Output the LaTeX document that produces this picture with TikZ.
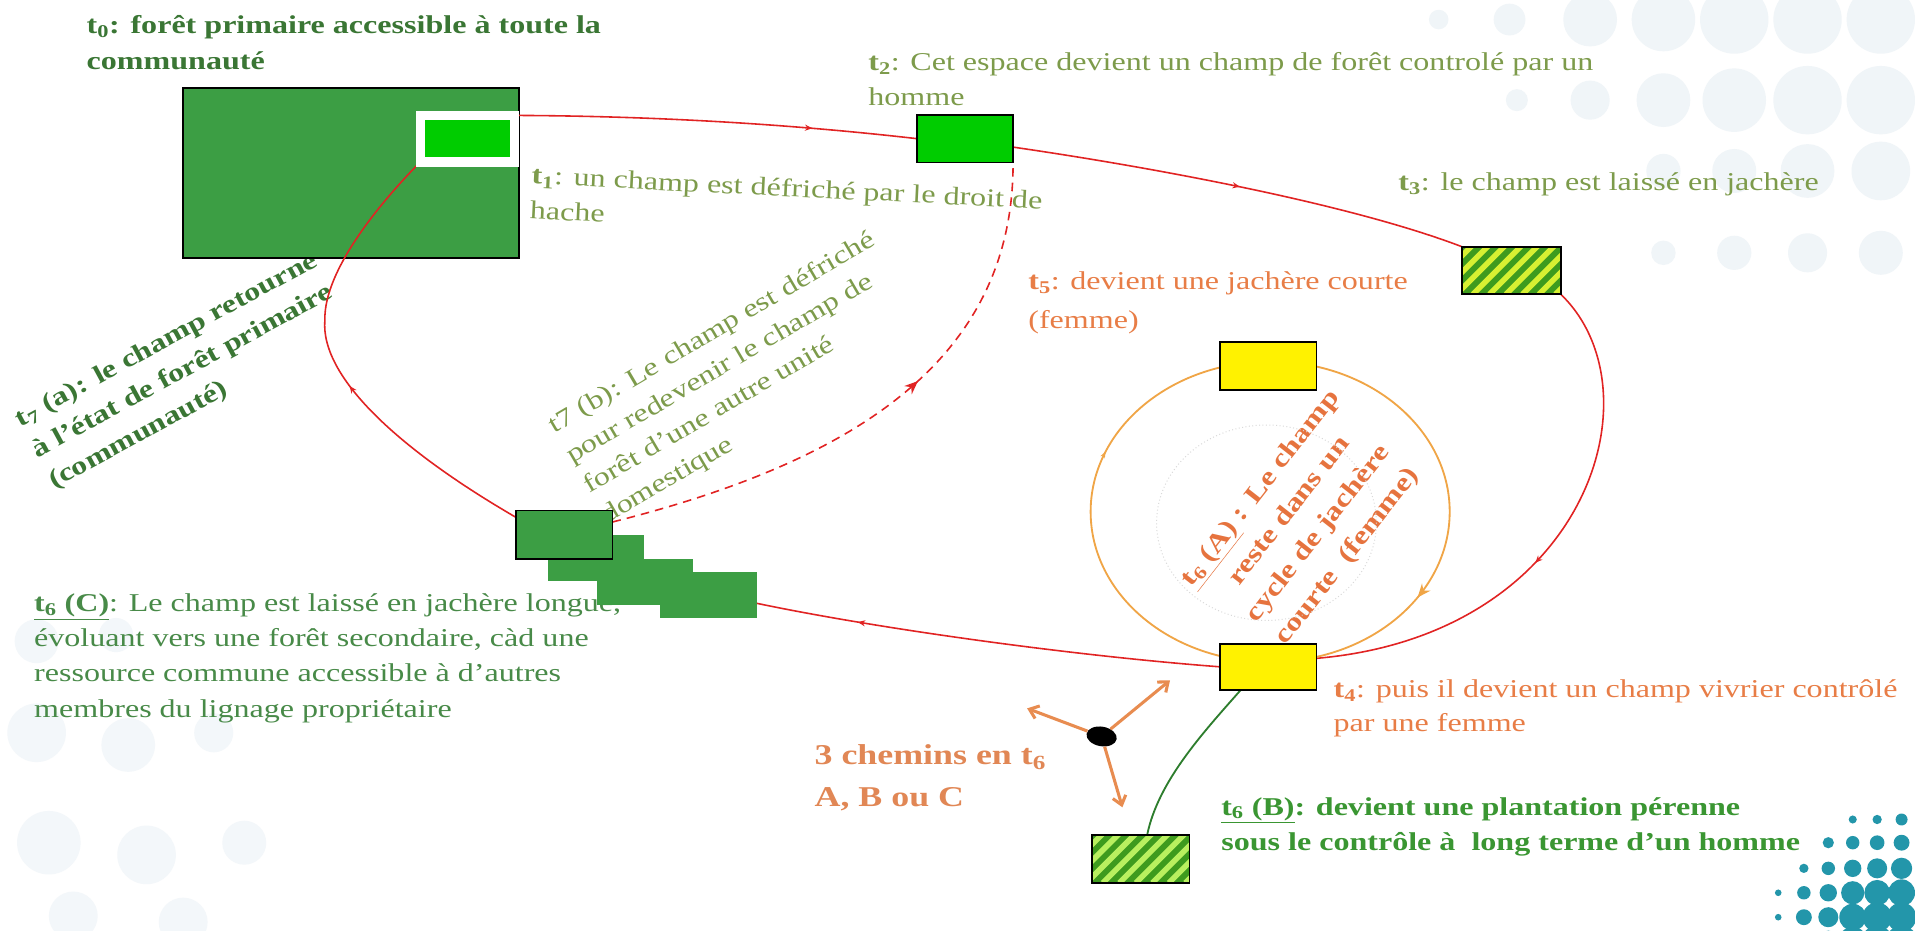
\documentclass[tikz,border=0pt]{standalone}
\usepackage{fontspec}
\setmainfont{Liberation Serif}[FakeStretch=1.25]
\usetikzlibrary{shapes.geometric,arrows.meta,decorations.markings,calc}
\pgfdeclarelayer{under}
\pgfdeclarelayer{lines}
\pgfsetlayers{under,lines,main}
\definecolor{dkgreen}{RGB}{58,118,52}
\definecolor{olivec}{RGB}{125,155,75}
\definecolor{midgreen}{RGB}{72,138,72}
\definecolor{bgreen}{RGB}{58,150,50}
\definecolor{ortext}{RGB}{232,125,70}
\definecolor{orbold}{RGB}{230,115,62}
\definecolor{orchem}{RGB}{225,135,85}
\definecolor{orc}{RGB}{240,165,70}
\definecolor{orarrow}{RGB}{232,140,80}
\definecolor{redc}{RGB}{225,35,35}
\definecolor{forestc}{RGB}{60,158,68}
\definecolor{brightc}{RGB}{0,204,0}
\definecolor{hatchg}{RGB}{62,155,30}
\definecolor{hatchy}{RGB}{215,240,50}
\definecolor{hatchl}{RGB}{185,240,95}
\definecolor{tealc}{RGB}{35,150,170}
\definecolor{faintc}{RGB}{240,245,248}
\definecolor{faintl}{RGB}{243,247,250}
\definecolor{glinec}{RGB}{45,125,45}
\newcommand{\hatchbox}[2]{%
  \begin{scope}
    \clip (#1.south west) rectangle (#1.north east);
    \foreach \k in {0,...,10} \draw[#2,line width=4.5pt] ($(#1.south west)+(\k*13.5-45,0)$) -- ++(55,-55);
  \end{scope}
  \draw[black,line width=1.5pt] (#1.south west) rectangle (#1.north east);}
\begin{document}
\begin{tikzpicture}[x=1pt,y=-1pt,
  box/.style={draw=black,line width=1.5pt,minimum width=79pt,minimum height=39pt,inner sep=0pt,outer sep=0pt},
  copyb/.style={fill=forestc,minimum width=79pt,minimum height=38pt,inner sep=0pt,outer sep=0pt},
  txt/.style={inner sep=0pt,outer sep=0pt,align=left,anchor=west,font=\fontsize{21}{28.5}\selectfont},
  btxt/.style={inner sep=0pt,outer sep=0pt,align=left,anchor=west,font=\fontsize{21}{28.5}\selectfont\bfseries},
  redl/.style={color=redc,line width=1.3pt},
  midarr/.style={postaction={decorate,decoration={markings,mark=at position #1 with {\arrow{Stealth[length=6pt,width=5pt]}}}}},
  orarr/.style={color=orarrow,line width=2.5pt,-{Straight Barb[length=7pt,width=11pt]}},
  ]
\useasboundingbox (0,0) rectangle (1568,762);
\begin{pgfonlayer}{under}
  \fill[white] (0,0) rectangle (1568,762);
  % faint background circles
  \foreach \x/\y/\r in {1178/16/8,1236/16/13,1302/16/22,1362/16/26,1420/16/28,1480/16/28,1540/16/28,
    1242/82/9,1302/82/16,1362/82/22,1420/82/26,1480/82/28,1540/82/28,
    1362/140/14,1420/140/18,1480/140/22,1540/140/24,
    1362/207/10,1420/207/14,1480/207/16,1540/207/18}
    \fill[faintc] (\x,\y) circle[radius=\r];
  \foreach \x/\y/\r in {30/525/18,95/520/14,30/600/24,105/610/22,175/600/16,40/690/26,120/700/24,200/690/18,60/750/20,150/755/20}
    \fill[faintl] (\x,\y) circle[radius=\r];
  % teal dots
  \begin{scope}
    \clip (0,0) rectangle (1568,762);
    \foreach \x/\y/\r in {1517/671/3.3,1537/671/3.8,1557/671/4.9,
      1497/690/4.6,1517/690/5.5,1537/690/6,1557/690/6.5,
      1477/711/3.8,1497/711/5.5,1517/711/7.1,1537/711/8.2,1557/711/8.7,
      1456/731/2.7,1477/731/5.5,1497/731/7.1,1517/731/9.5,1537/731/10.5,1557/731/11,
      1456/751/2.7,1477/751/6.5,1497/751/8.2,1517/751/11,1537/751/12,1557/751/12,
      1477/771/7,1497/771/9,1517/771/12,1537/771/13,1557/771/13}
      \fill[tealc] (\x,\y) circle[radius=\r];
  \end{scope}
  % texts
  \node[btxt,text=dkgreen,font=\fontsize{21}{30}\selectfont\bfseries] (t0txt) at (71,35)
    {t\textsubscript{0}: forêt primaire accessible à toute la\\communauté};
  \node[txt,text=olivec,rotate=-2.8] (t1txt) at (434.7,157.5)
    {\textbf{t\textsubscript{1}}: un champ est défriché par le droit de\\hache};
  \node[txt,text=olivec,font=\fontsize{21}{29}\selectfont] (t2txt) at (711,65)
    {\textbf{t\textsubscript{2}}: Cet espace devient un champ de forêt controlé par un\\homme};
  \node[txt,text=olivec] (t3txt) at (1145,151)
    {\textbf{t\textsubscript{3}}: le champ est laissé en jachère};
  \node[txt,text=ortext,font=\fontsize{21}{28}\selectfont] (t4txt) at (1092,580)
    {\textbf{t\textsubscript{4}}: puis il devient un champ vivrier contrôlé\\par une femme};
  \node[txt,text=ortext,font=\fontsize{21}{32}\selectfont] (t5txt) at (842,248)
    {\textbf{t\textsubscript{5}}: devient une jachère courte\\(femme)};
  \node[btxt,text=bgreen,font=\fontsize{21}{29}\selectfont\bfseries] (t6Btxt) at (1000,677)
    {\underline{t\textsubscript{6} (B)}: devient une plantation pérenne\\sous le contrôle à\ \ long terme d’un homme};
  \node[txt,text=midgreen,font=\fontsize{21}{28.7}\selectfont] (t6Ctxt) at (28,539)
    {\underline{\textbf{t\textsubscript{6} (C)}}: Le champ est laissé en jachère longue,\\évoluant vers une forêt secondaire, càd une\\ressource commune accessible à d’autres\\membres du lignage propriétaire};
  \node[btxt,text=orchem,font=\fontsize{23.5}{34}\selectfont\bfseries] (chemtxt) at (667,637)
    {3 chemins en t\textsubscript{6}\\A, B ou C};
  \node[btxt,text=dkgreen,rotate=28.5,font=\fontsize{21}{28.7}\selectfont\bfseries] (t7atxt) at (28.2,370.7)
    {t\textsubscript{7} (a): le champ retourne\\à l’état de forêt primaire\\(communauté)};
  \node[txt,text=olivec,rotate=30.4] (t7btxt) at (473,387.4)
    {t7 (b): Le champ est défriché\\pour redevenir le champ de\\forêt d’une autre unité\\domestique};
  \node[inner sep=0pt,align=center,rotate=52,text=orbold,font=\fontsize{21}{30}\selectfont\bfseries] (t6Atxt) at (1068,428)
    {\underline{t\textsubscript{6} (A)} : Le champ\\reste dans un\\cycle de jachère\\courte\ \ (femme)};
  % primary forest
  \node[draw=black,line width=1.5pt,fill=forestc,minimum width=275pt,minimum height=139pt,inner sep=0pt,outer sep=0pt] (forest) at (287.5,141.5) {};
\end{pgfonlayer}

% boxes
\node[fill=brightc,draw=white,line width=8pt,minimum width=77pt,minimum height=38pt,inner sep=0pt,outer sep=0pt] (t1box) at (382.75,113.5) {};
\node[box,fill=brightc] (t2box) at (790,113.5) {};
\node[box,fill=hatchg,draw=none,minimum width=81pt] (t3box) at (1237.5,221.5) {};
\hatchbox{t3box}{hatchy}
\node[box,fill=yellow] (t5box) at (1038.5,299.5) {};
\node[box,fill=yellow,minimum height=38pt] (t4box) at (1038.5,546) {};
\node[box,fill=hatchg,draw=none,minimum width=80pt] (t6Bbox) at (934,703.5) {};
\hatchbox{t6Bbox}{hatchl}
\node[copyb] (c3) at (580,487) {};
\node[copyb] (c2) at (528,476.5) {};
\node[copyb] (c1) at (488,457) {};
\node[box,fill=forestc,minimum height=40pt] (t6Cbox) at (462,438) {};

% three paths symbol
\node[ellipse,fill=black,minimum width=25pt,minimum height=16pt,inner sep=0pt,rotate=-10] (hub) at (902,603) {};
\coordinate (pA) at (841,580);
\coordinate (pB) at (958,557);
\coordinate (pC) at (919,661);
\draw[orarr] (hub) -- (pA);
\draw[orarr] (hub) -- (pB);
\draw[orarr] (hub) -- (pC);

\begin{pgfonlayer}{lines}
  \coordinate (lft) at (266,262);
  \draw[redl,midarr=0.74] (t1box.north east) .. controls (540,95) and (650,102) .. (t2box.west);
  \draw[redl,midarr=0.5] (t2box.-10) .. controls (930,135) and (1100,165) .. (t3box.north west);
  \draw[redl,midarr=0.55] (t3box.south east) .. controls (1360,320) and (1300,520) .. (t4box.10);
  \draw[redl,midarr=0.78] (t4box.west) .. controls (880,537) and (720,515) .. (c3.-10);
  \draw[redl,midarr=0.45] (t6Cbox.160) .. controls (330,370) and (262,310) .. (lft)
     .. controls (265,220) and (315,162) .. (t1box.south west);
  \draw[redl,dash pattern=on 7pt off 5pt,
     postaction={decorate,decoration={markings,mark=at position 0.58 with {\arrow{Stealth[length=11pt,width=9pt]}}}}]
     (t6Cbox.15) .. controls (690,380) and (830,300) .. (t2box.south east);
  \draw[black!15,dotted,line width=0.8pt] (1037,428) ellipse [x radius=90,y radius=80];
  \draw[color=orc,line width=1.5pt,
     postaction={decorate,decoration={markings,
       mark=at position 0.09 with {\arrow{Stealth[length=11pt,width=9pt]}},
       mark=at position 0.56 with {\arrow{Stealth[length=5pt,width=4pt]}}}}]
     (1040,419) ellipse [x radius=147,y radius=123];
  \draw[glinec,line width=1.5pt] (t4box.-140) .. controls (985,600) and (948,640) .. (t6Bbox.75);
\end{pgfonlayer}
\end{tikzpicture}
\end{document}
